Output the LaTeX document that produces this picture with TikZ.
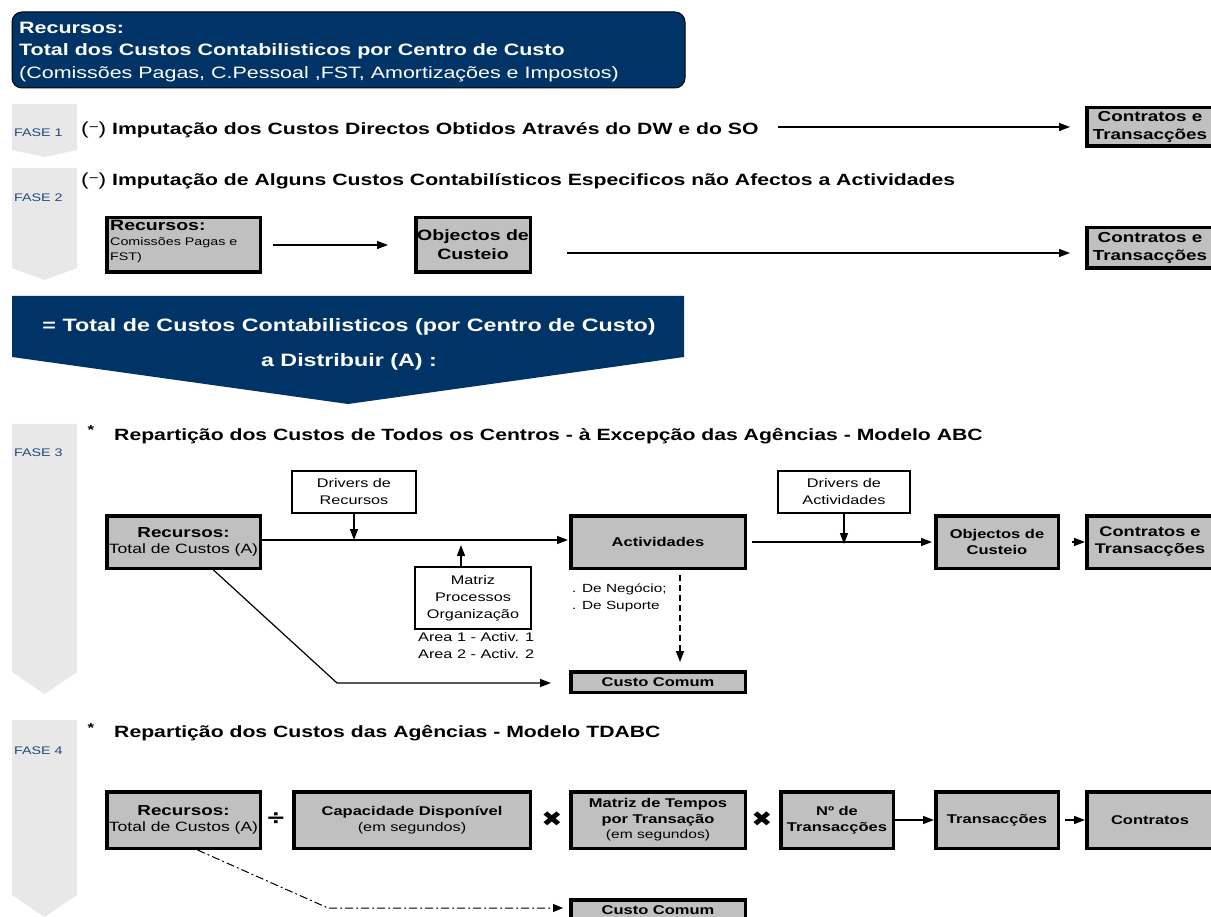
\documentclass[tikz,border=0pt]{standalone}
\usepackage{fontspec}
\setmainfont{Liberation Sans}[FakeStretch=1.3]
\newfontfamily\symfont{DejaVu Sans}[FakeStretch=1.2]
\usetikzlibrary{arrows.meta,calc}
\definecolor{navy}{RGB}{0,51,102}
\definecolor{chev}{RGB}{232,232,232}
\definecolor{boxgray}{RGB}{192,192,192}
\definecolor{faseblue}{RGB}{31,73,125}
\tikzset{
  gbox/.style={draw=black, line width=3.5pt, fill=boxgray, inner sep=0pt, align=center,
    font=\bfseries\fontsize{12.7}{16}\selectfont},
  gboxbig/.style={gbox, font=\bfseries\fontsize{14.5}{18}\selectfont},
  wbox/.style={draw=black, line width=2pt, fill=white, inner sep=0pt, align=center,
    font=\fontsize{12.5}{17}\selectfont},
  arr/.style={line width=1.5pt, -{Triangle[length=11pt,width=8pt]}},
  chevron/.style={fill=chev, draw=none},
  fase/.style={anchor=west, text=faseblue, inner sep=0pt, font=\fontsize{11}{12}\selectfont},
  head/.style={anchor=west, inner sep=0pt, font=\bfseries\fontsize{16.3}{19}\selectfont},
  bannertxt/.style={anchor=west, inner sep=0pt, text=white, font=\fontsize{16.5}{19}\selectfont},
  small/.style={inner sep=0pt, font=\fontsize{11.8}{17}\selectfont},
  opsym/.style={inner sep=0pt, font=\symfont\fontsize{21}{21}\selectfont},
}
\newcommand\minusmark{\textmd{\fontsize{17.5}{19}\selectfont(}\raisebox{3pt}{\textmd{\fontsize{13}{13}\selectfont −}}\textmd{\fontsize{17.5}{19}\selectfont)}}
\begin{document}
\begin{tikzpicture}[x=1pt,y=-1pt]
\useasboundingbox (0,0) rectangle (1211,917);
\fill[white] (0,0) rectangle (1211,917);

% ---------- top banner
\draw[fill=navy, draw=black, line width=1pt, rounded corners=10pt] (12,12) rectangle (685,88);
\node[bannertxt, font=\bfseries\fontsize{16.5}{19}\selectfont] (b1) at (19,28) {Recursos:};
\node[bannertxt, font=\bfseries\fontsize{16.5}{19}\selectfont] (b2) at (19,51) {Total dos Custos Contabilisticos por Centro de Custo};
\node[bannertxt] (b3) at (19,74) {(Comissões Pagas, C.Pessoal ,FST, Amortizações e Impostos)};

% ---------- chevrons
\fill[chevron] (12,104) -- (77,104) -- (77,150) -- (44.5,157) -- (12,150) -- cycle;
\fill[chevron] (12,168) -- (77,168) -- (77,268) -- (44.5,280) -- (12,268) -- cycle;
\fill[chevron] (12,424) -- (77,424) -- (77,672) -- (44.5,694) -- (12,672) -- cycle;
\fill[chevron] (12,720) -- (77,720) -- (77,895) -- (44.5,917) -- (12,895) -- cycle;
\node[fase] (f1) at (14,133) {FASE 1};
\node[fase] (f2) at (14,198) {FASE 2};
\node[fase] (f3) at (14,453) {FASE 3};
\node[fase] (f4) at (14,751) {FASE 4};

% ---------- FASE 1
\node[head] (h1) at (81,130) {\minusmark\ Imputação dos Custos Directos Obtidos Através do DW e do SO};
\node[gboxbig, minimum width=126.5, minimum height=38.5] (p1c) at (1150,127) {Contratos e\\Transacções};
\coordinate (p1s) at (778,127);
\draw[arr, line width=1.3pt, shorten >=15pt] (p1s) -- (p1c.west);

% ---------- FASE 2
\node[head] (h2) at (81,181) {\minusmark\ Imputação de Alguns Custos Contabilísticos Especificos não Afectos a Actividades};
\node[gbox, minimum width=153.5, minimum height=54.5] (p2r) at (183.5,245) {};
\node[anchor=north west, inner sep=0pt, align=left, font=\fontsize{11}{15}\selectfont] (p2rt) at (110,220)
  {{\bfseries\fontsize{15}{17}\selectfont Recursos:}\\Comissões Pagas e\\FST)};
\node[gboxbig, font=\bfseries\fontsize{15}{19}\selectfont, minimum width=114.5, minimum height=54.5] (p2o) at (473,245) {Objectos de\\Custeio};
\node[gboxbig, minimum width=126.5, minimum height=40.5] (p2c) at (1150,248) {Contratos e\\Transacções};
\draw[arr, line width=1.3pt, shorten <=11pt, shorten >=26pt] (p2r.east) -- (p2o.west);
\coordinate (p2s) at ([yshift=-8pt]p2o.east);
\draw[arr, line width=1.3pt, shorten <=35pt, shorten >=15pt] (p2s) -- (p2s -| p2c.west);

% ---------- big banner
\fill[navy] (12,296) -- (684,296) -- (684,357) -- (348,404) -- (12,357) -- cycle;
\node[inner sep=0pt, text=white, font=\bfseries\fontsize{17.9}{19}\selectfont] (bb1) at (349,327) {= Total de Custos Contabilisticos (por Centro de Custo)};
\node[inner sep=0pt, text=white, font=\bfseries\fontsize{17.9}{19}\selectfont] (bb2) at (349,362) {a Distribuir (A) :};

% ---------- FASE 3
\node[inner sep=0pt, font=\bfseries\fontsize{13}{13}\selectfont] (s3) at (91,430) {*};
\node[head] (h3) at (114,436) {Repartição dos Custos de Todos os Centros - à Excepção das Agências - Modelo ABC};
\node[wbox, minimum width=124, minimum height=42] (p3dr) at (354,492) {Drivers de\\Recursos};
\node[gbox, minimum width=153.5, minimum height=52.5] (p3r) at (183.5,542)
  {{\fontsize{14.5}{18}\selectfont Recursos:}\\{\mdseries\fontsize{13.5}{16}\selectfont Total de Custos (A)}};
\node[gbox, minimum width=174.5, minimum height=52.5] (p3a) at (658,542) {Actividades};
\node[wbox, minimum width=116, minimum height=62] (p3m) at (473,598) {Matriz\\Processos\\Organização};
\node[small, anchor=north west, align=left, font=\fontsize{12.5}{17}\selectfont] (p3mt) at (418,632) {Area 1 - Activ. 1\\Area 2 - Activ. 2};
\node[small, anchor=north west, align=left] (p3at) at (572,584) {. De Negócio;\\. De Suporte};
\node[gbox, minimum width=174.5, minimum height=20.5] (p3cc) at (658,682) {Custo Comum};
\node[wbox, minimum width=132, minimum height=42] (p3da) at (844,492) {Drivers de\\Actividades};
\node[gbox, minimum width=122.5, minimum height=52.5] (p3o) at (997,542) {Objectos de\\Custeio};
\node[gbox, font=\bfseries\fontsize{14}{17}\selectfont, minimum width=126.5, minimum height=52.5] (p3c) at (1150,542) {Contratos e\\Transacções};

\draw[arr, shorten >=1pt] ([yshift=2pt]p3r.east) -- ([yshift=2pt]p3a.west);
\draw[arr, shorten >=0pt] (p3dr.south) -- ++(0,26);
\draw[arr] ([xshift=-12pt]p3m.north) -- ++(0,-21);
\draw[arr, dashed, dash pattern=on 6pt off 4pt, shorten <=5pt, shorten >=8pt] ([xshift=22pt]p3a.south) -- ([xshift=22pt]p3cc.north);
\coordinate (p3k) at (337,683);
\draw[line width=1.2pt, -{Triangle[length=11pt,width=8pt]}, shorten >=18pt] ([xshift=30pt]p3r.south) -- (p3k) -- (p3k -| p3cc.west);
\draw[arr, shorten <=5pt, shorten >=2pt] (p3a.east) -- (p3o.west);
\draw[arr] (p3da.south) -- ++(0,30);
\draw[arr, shorten <=12pt] (p3o.east) -- (p3c.west);

% ---------- FASE 4
\node[inner sep=0pt, font=\bfseries\fontsize{13}{13}\selectfont] (s4) at (91,728) {*};
\node[head] (h4) at (114,733) {Repartição dos Custos das Agências - Modelo TDABC};
\node[gbox, minimum width=153.5, minimum height=56.5] (p4r) at (183.5,820)
  {{\fontsize{14.5}{18}\selectfont Recursos:}\\{\mdseries\fontsize{13.5}{16}\selectfont Total de Custos (A)}};
\node[gbox, minimum width=236.5, minimum height=56.5] (p4cap) at (412,820)
  {Capacidade Disponível\\{\mdseries\fontsize{12.5}{15}\selectfont (em segundos)}};
\node[gbox, minimum width=174.5, minimum height=56.5] (p4m) at (658,820)
  {Matriz de Tempos\\por Transação\\[-1pt]{\mdseries\fontsize{12}{12}\selectfont (em segundos)}};
\node[gbox, minimum width=112.5, minimum height=56.5] (p4n) at (837,820) {Nº de\\Transacções};
\node[gbox, minimum width=122.5, minimum height=56.5] (p4t) at (997,820) {Transacções};
\node[gbox, minimum width=126.5, minimum height=56.5] (p4c) at (1150,820) {Contratos};
\node[gbox, minimum width=174.5, minimum height=20.5] (p4cc) at (658,910) {Custo Comum};
\node[inner sep=0pt, font=\symfont\bfseries\fontsize{20}{20}\selectfont] (op1) at (276,819) {÷};
\node[opsym] (op2) at (552,819) {✖};
\node[opsym] (op3) at (762,819) {✖};
\draw[arr] (p4n.east) -- (p4t.west);
\draw[arr, shorten <=5pt] (p4t.east) -- (p4c.west);
\coordinate (p4k) at (328,908);
\draw[line width=1pt, dash pattern=on 8pt off 3pt on 2pt off 3pt, -{Triangle[length=10pt,width=8pt]}, shorten >=6pt]
  ([xshift=14pt]p4r.south) -- (p4k) -- (p4k -| p4cc.west);
\end{tikzpicture}
\end{document}
